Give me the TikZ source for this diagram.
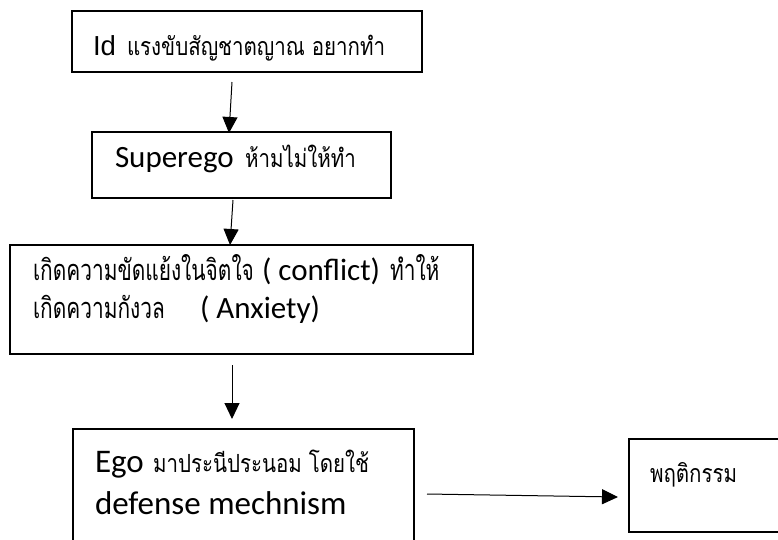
\documentclass[tikz,border=0pt]{standalone}
\usepackage{fontspec}
\setmainfont{Carlito}
\newfontfamily\thaifont[Script=Thai, FakeStretch=0.82]{Loma}
\newfontfamily\thaicond[Script=Thai, FakeStretch=0.72]{Loma}
\newfontfamily\arialfont{Liberation Sans}
\usetikzlibrary{arrows.meta}
\begin{document}
\begin{tikzpicture}[x=1pt,y=-1pt,
  box/.style={draw, line width=1.6pt, rectangle, inner sep=0pt, outer sep=0pt, anchor=north west},
  txt/.style={anchor=base west, inner sep=0pt, outer sep=0pt},
  arr/.style={line width=1pt, -{Triangle[width=15pt,length=16pt]}},
  th/.style={txt, font=\thaifont\fontsize{25}{30}\selectfont},
  thbig/.style={txt, font=\thaicond\fontsize{29}{34}\selectfont},
  lat/.style={txt, font=\fontsize{31}{36}\selectfont}]
\useasboundingbox (0,0) rectangle (778,539);
\clip (0,0) rectangle (778,539);
% boxes
\node[box, minimum width=350pt, minimum height=61pt] (b1) at (72,11) {};
\node[box, minimum width=299pt, minimum height=66pt] (b2) at (92,132) {};
\node[box, minimum width=463pt, minimum height=109pt] (b3) at (10,245) {};
\node[box, minimum width=341pt, minimum height=130pt] (b4) at (73,429) {};
\node[box, minimum width=170pt, minimum height=93pt] (b5) at (629,439) {};
% texts
\node[txt, font=\arialfont\fontsize{27.5}{32}\selectfont] (t1a) at (93,55) {Id};
\node[th] (t1b) at (127,55) {แรงขับสัญชาตญาณ อยากทำ};
\node[lat] (t2a) at (115,167) {Superego};
\node[th] (t2b) at (245,167) {ห้ามไม่ให้ทำ};
\node[thbig] (t3a) at (33,280) {เกิดความขัดแย้งในจิตใจ};
\node[lat] (t3b) at (262,280) {( conflict)};
\node[thbig] (t3c) at (390,280) {ทำให้};
\node[thbig] (t3d) at (33,318) {เกิดความกังวล};
\node[lat] (t3e) at (200,318) {( Anxiety)};
\node[lat, font=\fontsize{33}{38}\selectfont] (t4a) at (95,472) {Ego};
\node[th] (t4b) at (153,472) {มาประนีประนอม โดยใช้};
\node[lat, font=\fontsize{33}{38}\selectfont] (t4c) at (95,514) {defense mechnism};
\node[th] (t5) at (650,482) {พฤติกรรม};
% connectors
\coordinate (a1s) at (232,82);  \coordinate (a1e) at (229,133);
\coordinate (a2s) at (233,200); \coordinate (a2e) at (230,245);
\coordinate (a3s) at (232,365); \coordinate (a3e) at (232,419);
\coordinate (a4s) at (427,494); \coordinate (a4e) at (618,497);
\draw[arr] (a1s) -- (a1e);
\draw[arr] (a2s) -- (a2e);
\draw[arr] (a3s) -- (a3e);
\draw[arr] (a4s) -- (a4e);
\end{tikzpicture}
\end{document}
